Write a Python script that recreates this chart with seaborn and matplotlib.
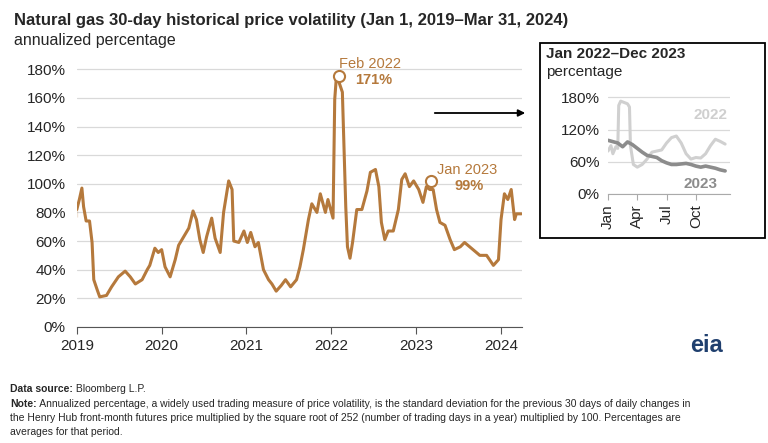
import matplotlib.pyplot as plt
import seaborn as sns
from matplotlib.patches import Rectangle

# main series: decimal year, annualized volatility (%)
years = [2019.0, 2019.0, 2019.03, 2019.06, 2019.08, 2019.11, 2019.15, 2019.18, 2019.2, 2019.24, 2019.27,
         2019.35, 2019.41, 2019.49, 2019.57, 2019.63, 2019.69, 2019.77, 2019.83, 2019.86, 2019.92, 2019.96,
         2020.0, 2020.04, 2020.1, 2020.16, 2020.2, 2020.26, 2020.32, 2020.37, 2020.41, 2020.45, 2020.49,
         2020.53, 2020.59, 2020.63, 2020.69, 2020.73, 2020.79, 2020.83, 2020.85, 2020.91, 2020.97, 2021.01,
         2021.05, 2021.1, 2021.14, 2021.2, 2021.26, 2021.3, 2021.35, 2021.41, 2021.46, 2021.52, 2021.59,
         2021.63, 2021.67, 2021.73, 2021.77, 2021.83, 2021.87, 2021.93, 2021.96, 2022.02, 2022.04, 2022.06,
         2022.09, 2022.13, 2022.17, 2022.19, 2022.22, 2022.25, 2022.3, 2022.36, 2022.42, 2022.46, 2022.52,
         2022.56, 2022.59, 2022.63, 2022.67, 2022.73, 2022.79, 2022.83, 2022.87, 2022.92, 2022.97, 2023.03,
         2023.08, 2023.12, 2023.16, 2023.2, 2023.24, 2023.28, 2023.34, 2023.4, 2023.45, 2023.52, 2023.57,
         2023.67, 2023.75, 2023.83, 2023.91, 2023.97, 2024.0, 2024.04, 2024.08, 2024.12, 2024.16, 2024.18, 2024.24]
volatility = [87, 77, 89, 97, 84, 74, 74, 59, 33, 26, 21,
              22, 28, 35, 39, 35, 30, 33, 40, 43, 55, 52,
              54, 42, 35, 47, 57, 63, 69, 81, 75, 61, 52,
              63, 76, 62, 52, 80, 102, 96, 60, 59, 67, 59,
              66, 56, 59, 40, 33, 30, 25, 29, 33, 28, 33,
              42, 54, 75, 86, 80, 93, 80, 89, 76, 159, 175,
              171, 164, 84, 56, 48, 59, 82, 82, 95, 108, 110,
              98, 73, 61, 67, 67, 82, 103, 107, 98, 102, 96,
              87, 98, 96, 96, 82, 73, 71, 61, 54, 56, 59,
              54, 50, 50, 43, 47, 75, 93, 89, 96, 75, 79, 79]

# inset: month offset from Jan 1
months_2022 = [0, 0.3, 0.5, 0.8, 1.0, 1.1, 1.3, 2.0, 2.2, 2.3, 2.6, 3.0, 3.5, 4.0, 4.5, 5.0, 5.5,
               6.0, 6.5, 7.0, 7.5, 8.0, 8.5, 9.0, 9.5, 10.0, 10.5, 11.0, 11.5, 12.0]
vol_2022 = [80, 90, 75, 88, 85, 165, 173, 168, 162, 90, 55, 50, 55, 65, 78, 80, 82,
            95, 105, 108, 95, 75, 65, 68, 67, 75, 90, 102, 98, 93]
months_2023 = [0, 1, 1.5, 2, 2.5, 3, 3.5, 4, 5, 5.5, 6, 6.5, 7, 8, 8.5, 9, 9.5, 10, 11, 11.5, 12]
vol_2023 = [100, 95, 88, 97, 92, 85, 78, 72, 68, 62, 58, 55, 55, 57, 55, 52, 50, 52, 48, 45, 43]

sns.set_style("white")
plt.rcParams["font.family"] = ["Liberation Sans", "DejaVu Sans"]

brown = "#b5793c"
fig = plt.figure(figsize=(7.68, 4.43), dpi=100)
ax = fig.add_axes([0.1, 0.262, 0.58, 0.614])
sns.lineplot(x=years, y=volatility, ax=ax, color=brown, linewidth=2.2, sort=False)
ax.set_xlim(2019, 2024.25)
ax.set_ylim(0, 190)
ax.set_yticks(range(0, 181, 20))
ax.set_yticklabels([f"{v}%" for v in range(0, 181, 20)], fontsize=11)
ax.set_xticks(range(2019, 2025))
ax.set_xticklabels([str(y) for y in range(2019, 2025)], fontsize=11)
ax.grid(axis="y", color="#d9d9d9", linewidth=0.9)
for s in ["top", "right", "left"]:
    ax.spines[s].set_visible(False)
ax.spines["bottom"].set_color("#555555")
ax.tick_params(axis="x", length=5, color="#555555", direction="out", bottom=True)
ax.tick_params(axis="y", length=0, pad=8)

ax.plot([2022.09], [175], "o", mfc="white", mec=brown, ms=8, mew=1.5)
ax.text(2022.46, 181, "Feb 2022", color=brown, fontsize=10.5, ha="center")
ax.text(2022.5, 170, "171%", color=brown, fontsize=10.5, ha="center", weight="bold")
ax.plot([2023.17], [102], "o", mfc="white", mec=brown, ms=8, mew=1.5)
ax.text(2023.6, 107, "Jan 2023", color=brown, fontsize=10.5, ha="center")
ax.text(2023.62, 96, "99%", color=brown, fontsize=10.5, ha="center", weight="bold")
ax.annotate("", xy=(528 / 768, 1 - 113 / 443), xytext=(432 / 768, 1 - 113 / 443),
            xycoords="figure fraction",
            arrowprops=dict(arrowstyle="-|>", color="black", lw=1.3))

# inset box
fig.patches.append(Rectangle((540 / 768, 1 - 238 / 443), 225 / 768, 195 / 443,
                             transform=fig.transFigure, fill=False, ec="black", lw=1.3))
fig.text(546 / 768, 1 - 58 / 443, "Jan 2022\u2013Dec 2023", fontsize=11, weight="bold")
fig.text(546 / 768, 1 - 76 / 443, "percentage", fontsize=11)
ins = fig.add_axes([608 / 768, 1 - 194 / 443, 122 / 768, 102 / 443])
sns.lineplot(x=months_2022, y=vol_2022, ax=ins, color="#d0d0d0", linewidth=2.2)
sns.lineplot(x=months_2023, y=vol_2023, ax=ins, color="#8c8c8c", linewidth=2.6)
ins.set_xlim(0, 12.5)
ins.set_ylim(0, 190)
ins.set_yticks([0, 60, 120, 180])
ins.set_yticklabels(["0%", "60%", "120%", "180%"], fontsize=11)
ins.set_xticks([0, 3, 6, 9])
ins.set_xticklabels(["Jan", "Apr", "Jul", "Oct"], rotation=90, fontsize=11)
ins.grid(axis="y", color="#d9d9d9", linewidth=0.9)
for s in ["top", "right", "left"]:
    ins.spines[s].set_visible(False)
ins.spines["bottom"].set_color("#aaaaaa")
ins.tick_params(axis="x", length=4, color="#aaaaaa", bottom=True)
ins.tick_params(axis="y", length=0, pad=6)
ins.text(10.5, 140, "2022", color="#cfcfcf", fontsize=11, weight="bold", ha="center")
ins.text(9.5, 12, "2023", color="#8c8c8c", fontsize=11, weight="bold", ha="center")

fig.text(0.018, 1 - 25 / 443, "Natural gas 30-day historical price volatility (Jan 1, 2019\u2013Mar 31, 2024)",
         fontsize=12, weight="bold")
fig.text(0.018, 1 - 45 / 443, "annualized percentage", fontsize=11.5)
fig.text(0.92, 1 - 352 / 443, "eia", fontsize=17, weight="bold", color="#1f3f6e", ha="center")

ds = fig.text(0.013, 1 - 392 / 443, "Data source:", fontsize=7.5, weight="bold")
ax.annotate(" Bloomberg L.P.", xy=(1, 0), xycoords=ds, fontsize=7.5, va="bottom")
nt = fig.text(0.013, 1 - 407 / 443, "Note:", fontsize=7.5, weight="bold")
ax.annotate(" Annualized percentage, a widely used trading measure of price volatility, is the standard deviation for the previous 30 days of daily changes in",
            xy=(1, 0), xycoords=nt, fontsize=7.5, va="bottom")
fig.text(0.013, 1 - 421 / 443,
         "the Henry Hub front-month futures price multiplied by the square root of 252 (number of trading days in a year) multiplied by 100. Percentages are",
         fontsize=7.5)
fig.text(0.013, 1 - 435 / 443, "averages for that period.", fontsize=7.5)

fig.savefig("out.png", dpi=100)
